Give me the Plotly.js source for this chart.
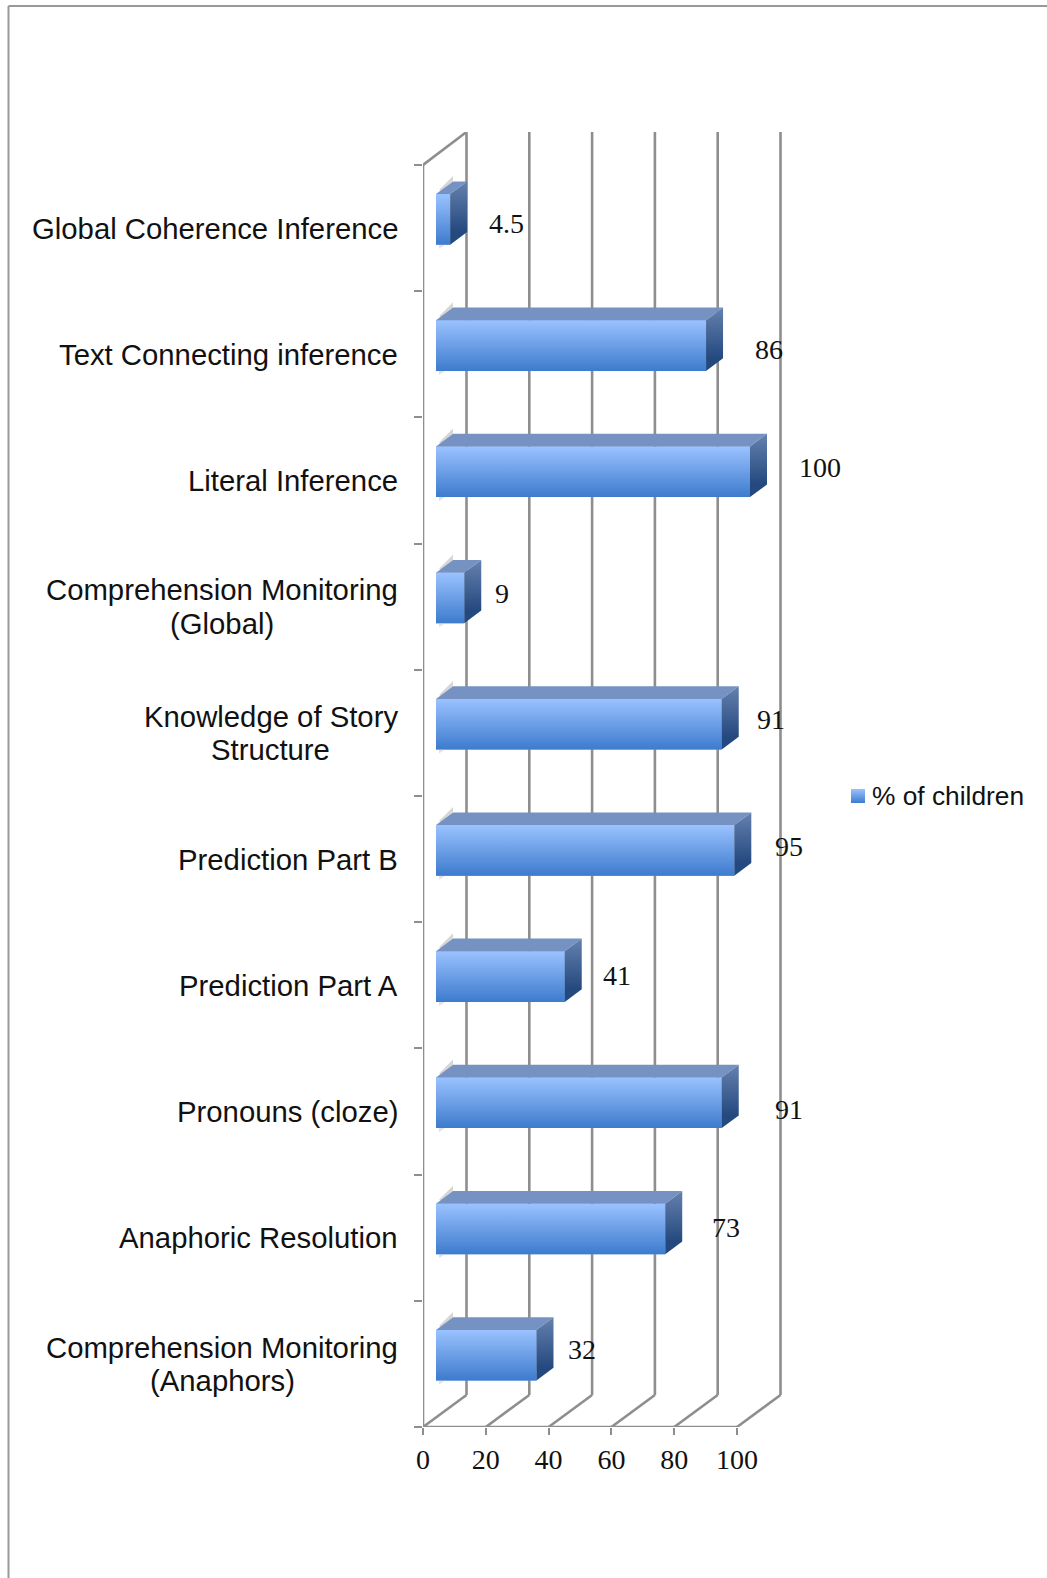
<!DOCTYPE html>
<html>
<head>
<meta charset="utf-8">
<script src="https://cdn.plot.ly/plotly-3.0.1.min.js"></script>
<style>html,body{margin:0;padding:0;background:#fff}#chart{width:1047px;height:1578px}</style>
</head>
<body>
<div id="chart"></div>
<script>
// Share of children passing each comprehension measure, listed top to bottom.
var categories = [
  ["Global Coherence Inference"],
  ["Text Connecting inference"],
  ["Literal Inference"],
  ["Comprehension Monitoring", "(Global)"],
  ["Knowledge of Story", "Structure"],
  ["Prediction Part B"],
  ["Prediction Part A"],
  ["Pronouns (cloze)"],
  ["Anaphoric Resolution"],
  ["Comprehension Monitoring", "(Anaphors)"]
];
var values = [4.5, 86, 100, 9, 91, 95, 41, 91, 73, 32];
var valueTicks = [0, 20, 40, 60, 80, 100];
var seriesName = "% of children";

// Hand-placed value labels: pixel offset from the end of each bar.
var labelShiftX = [56.5, 63, 70, 38, 49.5, 55, 52, 67.5, 61, 46];
var labelShiftY = [4, 3.5, -4.5, -5, -4.5, -4, -1.5, 6.5, -1.5, -5.5];

// Pixel geometry of the plot and of the oblique box the bars sit in.
var W = 1047, H = 1578;
var left = 423, floorY = 1427, topY = 132;
var pxPerUnit = 3.14, pxPerBand = 126.2;
var wallDx = 43.5 / pxPerUnit, wallDy = 32 / pxPerBand;
var barBase = 13 / pxPerUnit, barLift = 8.7 / pxPerBand, barHeight = 50.6 / pxPerBand;
var barDx = 17 / pxPerUnit, barDy = 12.7 / pxPerBand;
var categoryRight = 398, categorySize = 29.3, categoryLeading = 33.7;

var n = categories.length;
var xMax = (W - left) / pxPerUnit;
var yMin = -0.5, yMax = -0.5 + (floorY - topY) / pxPerBand;
var yTop = n - 0.5;
var gridColor = "#8e8e8e";
var serif = "'Liberation Serif', serif";
var sans = "'Liberation Sans', Arial, sans-serif";

function pos(k) { return n - 1 - k + barLift; }
function px(x) { return (x - left) / (W - left); }
function py(y) { return (floorY - y) / (floorY - topY); }
function polygon(xs, ys, grad, fill) {
  var t = { type: "scatter", mode: "lines", x: xs, y: ys, fill: "toself", line: { width: 0 },
            hoverinfo: "skip", showlegend: false };
  if (grad) {
    t.fillgradient = { type: "vertical", start: grad[0], stop: grad[1],
                       colorscale: [[0, grad[2]], [1, grad[3]]] };
  } else {
    t.fillcolor = fill;
  }
  return t;
}

// Text width, used to centre a wrapped label's lines within its right-aligned block.
var measure = document.createElement("canvas").getContext("2d");
measure.font = categorySize + "px 'Liberation Sans'";

var traces = [];
var annotations = [];

// Front faces as a real horizontal bar series.
traces.push({
  type: "bar", orientation: "h", name: seriesName,
  x: values, base: values.map(function () { return barBase; }),
  y: values.map(function (v, k) { return pos(k); }),
  width: barHeight, marker: { color: "#6c9de6", line: { width: 0 } },
  showlegend: false, hoverinfo: "x"
});

values.forEach(function (v, k) {
  var x0 = barBase, x1 = barBase + v;
  var yc = pos(k), y0 = yc - barHeight / 2, y1 = yc + barHeight / 2;
  var ux = 1 / pxPerUnit, uy = 1 / pxPerBand;
  // faint cast shadow peeking out behind the near corners
  traces.push(polygon(
    [x0 + 3 * ux, x0 + 17 * ux, x0 + 17 * ux, x0 + 5 * ux],
    [y1 + 4 * uy, y1 + 18 * uy, y1 + 13 * uy, y1 + 3 * uy], null, "#d6d6d6"));
  traces.push(polygon(
    [x0 + 3 * ux, x0 + 9 * ux, x0 + 3 * ux],
    [y0, y0, y0 - 4 * uy], null, "#e2e2e2"));
  // shaded front
  traces.push(polygon([x0, x1, x1, x0], [y0, y0, y1, y1], [y0, y1, "#3d7bcd", "#9ac2ff"]));
  // top face
  traces.push(polygon([x0, x1, x1 + barDx, x0 + barDx], [y1, y1, y1 + barDy, y1 + barDy], null, "#7592c3"));
  // end face
  traces.push(polygon([x1, x1 + barDx, x1 + barDx, x1],
    [y0, y0 + barDy, y1 + barDy, y1], [y0 + barDy, y1 + barDy, "#24497f", "#6581ae"]));

  annotations.push({
    xref: "x", yref: "y", x: x1, y: yc, text: String(v), showarrow: false,
    xanchor: "center", yanchor: "middle", xshift: labelShiftX[k], yshift: -labelShiftY[k],
    font: { family: serif, size: 28, color: "#111" }, borderpad: 0
  });

  // Category label: each line placed on its own so the leading stays tight.
  var lines = categories[k];
  var centre = categoryRight - measure.measureText(lines[0]).width / 2;
  lines.forEach(function (line, j) {
    annotations.push({
      xref: "paper", yref: "y", x: px(centre), y: n - 1 - k, text: line, showarrow: false,
      xanchor: "center", yanchor: "middle",
      yshift: -(j - (lines.length - 1) / 2) * categoryLeading,
      font: { family: sans, size: categorySize, color: "#111" }, borderpad: 0
    });
  });
});

// Legend key and text.
var legendX = (858 - left) / pxPerUnit, legendY = -0.5 + (floorY - 796) / pxPerBand;
traces.push({
  type: "scatter", mode: "markers", x: [legendX], y: [legendY], name: seriesName,
  marker: { symbol: "square", size: 14, color: "#9ac2ff", gradient: { type: "vertical", color: "#3d7bcd" } },
  hoverinfo: "skip", showlegend: false
});
annotations.push({
  xref: "x", yref: "y", x: legendX + 13 / pxPerUnit, y: legendY, text: seriesName, showarrow: false,
  xanchor: "left", yanchor: "middle", font: { family: sans, size: 26.3, color: "#111" }, borderpad: 0
});

function seg(x0, y0, x1, y1) {
  return { type: "line", xref: "x", yref: "y", x0: x0, y0: y0, x1: x1, y1: y1, layer: "below",
           line: { color: gridColor, width: 2.6 } };
}

var shapes = [];
// front axis lines
shapes.push(seg(0, yMin, 0, yTop));
shapes.push(seg(0, yMin, 100, yMin));
// wall lines rising from each value tick, with their floor diagonals
valueTicks.forEach(function (t) {
  shapes.push(seg(t, yMin, t + wallDx, yMin + wallDy));
  shapes.push(seg(t + wallDx, yMin + wallDy, t + wallDx, yMax));
});
// side wall top edge
shapes.push(seg(0, yTop, wallDx, yMax));
// page frame along the top and left edges
var frame = { color: "#999999", width: 2 };
shapes.push({ type: "line", xref: "paper", yref: "paper", x0: px(8.5), x1: px(8.5), y0: py(H), y1: py(6), line: frame });
shapes.push({ type: "line", xref: "paper", yref: "paper", x0: px(8.5), x1: px(W), y0: py(6), y1: py(6), line: frame });

var bandTicks = [];
for (var i = 0; i <= n; i++) bandTicks.push(i - 0.5);

var layout = {
  width: W, height: H,
  margin: { l: left, r: 0, t: topY, b: H - floorY, pad: 0 },
  paper_bgcolor: "#fff", plot_bgcolor: "rgba(0,0,0,0)",
  showlegend: false, barmode: "overlay",
  xaxis: {
    range: [0, xMax], tickmode: "array", tickvals: valueTicks, ticktext: valueTicks.map(String),
    showgrid: false, zeroline: false, showline: false,
    ticks: "outside", ticklen: 7, tickwidth: 2, tickcolor: gridColor, ticklabelstandoff: 0,
    tickfont: { family: serif, size: 28, color: "#111" }
  },
  yaxis: {
    range: [yMin, yMax], tickmode: "array", tickvals: bandTicks, ticktext: bandTicks.map(function () { return ""; }),
    showgrid: false, zeroline: false, showline: false,
    ticks: "outside", ticklen: 8, tickwidth: 2, tickcolor: gridColor
  },
  shapes: shapes,
  annotations: annotations
};

Plotly.newPlot("chart", traces, layout, { displayModeBar: false, responsive: false });
</script>
</body>
</html>
